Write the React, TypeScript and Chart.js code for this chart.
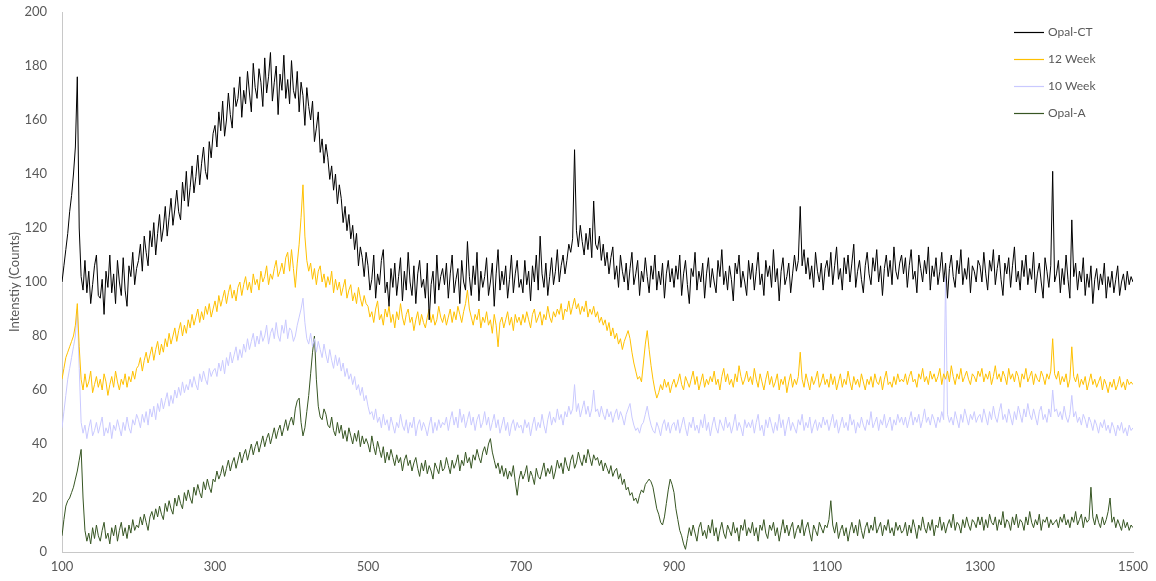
import { useEffect, useRef } from "react";
import { Chart, registerables } from "chart.js";

Chart.register(...registerables);

// Raman shift sampling (cm-1): first value and spacing of the measured points
const xStart = 100;
const xStep = 2.5;

const xTicks = [100, 300, 500, 700, 900, 1100, 1300, 1500];
const yTicks = [0, 20, 40, 60, 80, 100, 120, 140, 160, 180, 200];

const seriesNames = ["Opal-CT", "12 Week", "10 Week", "Opal-A"];
const seriesColors = ["#000000", "#FFC000", "#C9C9FF", "#375623"];

// one line per 100 cm-1 (40 readings)
const opalCT = [
  100, 106, 112, 118, 126, 132, 140, 150, 176, 120, 102, 97, 108, 96, 104, 92, 99, 106, 110, 95, 94, 101, 88, 104, 98, 110, 96, 103, 92, 108, 100, 95, 109, 97, 91, 106, 102, 111, 99, 105,
  108, 114, 104, 117, 111, 106, 119, 113, 122, 110, 118, 125, 115, 120, 128, 117, 124, 131, 121, 127, 134, 126, 123, 137, 130, 141, 128, 135, 143, 133, 139, 147, 136, 144, 150, 141, 138, 152, 146, 155,
  158, 150, 163, 156, 167, 154, 160, 170, 162, 157, 172, 165, 168, 176, 161, 171, 166, 178, 170, 163, 181, 172, 168, 179, 174, 165, 183, 170, 176, 185, 167, 174, 180, 162, 177, 171, 184, 168, 175, 166,
  182, 171, 168, 178, 163, 174, 169, 158, 172, 165, 160, 167, 152, 157, 163, 148, 153, 144, 151, 146, 138, 143, 134, 140, 129, 136, 131, 122, 128, 119, 125, 116, 121, 112, 118, 106, 113, 109, 102, 111,
  106, 97, 101, 110, 94, 103, 99, 108, 112, 96, 100, 91, 105, 98, 107, 95, 102, 109, 93, 104, 97, 111, 100, 95, 106, 92, 103, 108, 98, 101, 94, 107, 86, 99, 104, 92, 110, 97, 102, 105,
  99, 107, 94, 103, 110, 96, 101, 105, 92, 108, 100, 97, 115, 102, 95, 106, 99, 111, 93, 104, 98, 102, 109, 95, 100, 107, 91, 103, 112, 97, 104, 99, 106, 94, 101, 110, 96, 103, 108, 98,
  101, 96, 108, 99, 104, 93, 106, 100, 110, 97, 117, 103, 98, 107, 95, 102, 109, 99, 104, 112, 100, 106, 110, 103, 108, 114, 111, 116, 149, 119, 113, 121, 115, 110, 118, 112, 120, 109, 130, 114,
  112, 117, 108, 114, 106, 111, 103, 109, 113, 101, 106, 98, 110, 104, 100, 107, 97, 105, 111, 99, 103, 108, 95, 104, 100, 109, 102, 96, 106, 101, 110, 97, 104, 99, 107, 94, 103, 108, 100, 105,
  98, 106, 101, 110, 95, 103, 108, 99, 92, 105, 102, 111, 97, 104, 100, 107, 94, 103, 109, 98, 105, 100, 96, 108, 102, 112, 99, 104, 97, 106, 101, 93, 107, 103, 110, 98, 104, 100, 95, 108,
  101, 107, 97, 104, 111, 99, 103, 95, 108, 102, 106, 98, 112, 100, 105, 93, 104, 109, 99, 102, 107, 96, 103, 110, 104, 108, 128, 106, 112, 103, 109, 101, 106, 98, 111, 104, 100, 107, 97, 105,
  108, 102, 111, 99, 106, 113, 101, 105, 97, 109, 103, 110, 100, 107, 114, 98, 104, 108, 101, 96, 106, 111, 103, 99, 109, 104, 112, 100, 106, 95, 105, 110, 102, 108, 99, 113, 104, 101, 107, 110,
  103, 109, 98, 106, 112, 101, 104, 96, 110, 105, 100, 108, 103, 113, 97, 106, 102, 109, 99, 104, 111, 100, 107, 94, 105, 110, 102, 98, 108, 103, 112, 99, 105, 101, 109, 96, 106, 104, 100, 108,
  106, 100, 111, 103, 97, 108, 104, 112, 99, 105, 110, 101, 95, 107, 103, 109, 98, 106, 113, 100, 104, 97, 108, 102, 110, 99, 105, 101, 111, 96, 103, 107, 100, 94, 109, 104, 98, 106, 141, 100,
  103, 108, 96, 105, 99, 110, 101, 94, 123, 102, 107, 97, 104, 100, 109, 95, 103, 98, 106, 92, 101, 105, 97, 103, 99, 107, 94, 102, 98, 104, 96, 101, 106, 95, 100, 103, 97, 104, 99, 102,
  100,
];

const week12 = [
  64, 68, 72, 74, 76, 78, 80, 84, 92, 76, 64, 60, 66, 61, 63, 67, 59, 62, 65, 61, 64, 60, 66, 63, 58, 62, 65, 61, 67, 63, 60, 64, 62, 66, 61, 65, 63, 67, 64, 68,
  69, 72, 67, 71, 74, 70, 73, 76, 71, 75, 78, 73, 77, 74, 79, 76, 81, 77, 80, 83, 78, 82, 85, 80, 84, 81, 86, 83, 88, 84, 87, 90, 85, 89, 86, 91, 88, 92, 87, 90,
  93, 89, 95, 91, 94, 97, 92, 96, 99, 94, 97, 93, 98, 100, 95, 99, 102, 97, 100, 96, 103, 99, 101, 97, 104, 100, 102, 106, 99, 103, 101, 105, 108, 102, 104, 107, 103, 109, 111, 104,
  112, 105, 98, 107, 114, 124, 136, 117, 108, 104, 107, 101, 105, 99, 104, 106, 100, 103, 98, 102, 99, 104, 96, 101, 97, 100, 95, 98, 101, 94, 97, 99, 93, 96, 92, 98, 94, 91, 95, 92,
  91, 87, 89, 85, 90, 93, 86, 88, 84, 90, 87, 91, 85, 88, 83, 89, 86, 92, 87, 84, 88, 90, 85, 87, 82, 86, 89, 84, 88, 85, 83, 87, 90, 85, 88, 84, 86, 91, 87, 85,
  88, 84, 87, 90, 85, 89, 86, 91, 88, 85, 89, 92, 97, 90, 87, 84, 88, 86, 90, 83, 87, 85, 89, 84, 86, 81, 88, 84, 76, 85, 87, 83, 86, 89, 84, 87, 82, 88, 85, 87,
  84, 88, 85, 89, 86, 83, 88, 90, 85, 87, 89, 84, 88, 86, 91, 87, 85, 89, 87, 90, 88, 92, 86, 90, 89, 93, 88, 91, 94, 90, 92, 88, 91, 89, 93, 87, 90, 88, 91, 87,
  89, 85, 87, 84, 86, 82, 85, 80, 83, 79, 81, 77, 79, 75, 78, 80, 82, 79, 74, 70, 67, 64, 65, 63, 70, 77, 82, 75, 69, 64, 60, 57, 59, 62, 60, 64, 61, 63, 59, 62,
  64, 61, 63, 66, 62, 60, 65, 63, 61, 64, 67, 62, 65, 60, 63, 66, 61, 64, 62, 65, 63, 67, 62, 64, 60, 65, 68, 63, 66, 62, 64, 61, 66, 63, 69, 65, 62, 64, 67, 63,
  65, 62, 68, 64, 61, 66, 63, 60, 64, 67, 62, 65, 61, 63, 66, 60, 64, 62, 65, 59, 63, 66, 61, 64, 62, 65, 74, 64, 61, 66, 63, 60, 65, 62, 64, 67, 61, 63, 66, 62,
  64, 61, 66, 62, 65, 60, 63, 66, 61, 64, 62, 67, 63, 60, 65, 62, 64, 61, 66, 63, 60, 64, 62, 65, 61, 66, 63, 62, 65, 60, 64, 67, 62, 63, 61, 65, 62, 66, 63, 64,
  63, 66, 62, 65, 67, 63, 64, 61, 66, 64, 68, 63, 65, 62, 67, 64, 66, 63, 65, 68, 62, 66, 64, 67, 63, 69, 65, 62, 66, 64, 68, 63, 65, 67, 64, 62, 66, 65, 63, 67,
  65, 68, 63, 66, 64, 67, 62, 65, 69, 64, 66, 63, 67, 65, 62, 68, 64, 66, 63, 67, 65, 61, 66, 64, 68, 63, 65, 67, 62, 66, 64, 63, 67, 65, 62, 66, 64, 67, 79, 66,
  64, 67, 62, 65, 63, 66, 61, 64, 76, 65, 63, 66, 61, 64, 62, 65, 60, 63, 66, 62, 64, 61, 63, 65, 60, 64, 62, 59, 63, 61, 64, 60, 62, 65, 61, 63, 60, 64, 62, 63,
  62,
];

const week10 = [
  46, 52, 58, 64, 68, 72, 76, 80, 90, 68, 48, 44, 47, 42, 46, 49, 43, 45, 48, 44, 47, 50, 43, 46, 44, 48, 42, 47, 45, 49, 46, 43, 48, 45, 50, 46, 44, 49, 47, 51,
  49, 46, 51, 48, 52, 47, 53, 50, 54, 49, 55, 52, 57, 53, 56, 59, 54, 58, 55, 60, 57, 61, 58, 63, 59, 62, 60, 64, 61, 65, 62, 60, 66, 63, 67, 64, 62, 68, 65, 67,
  68, 65, 70, 67, 71, 66, 72, 69, 74, 70, 73, 76, 71, 75, 72, 77, 74, 79, 75, 78, 81, 76, 80, 77, 82, 78, 80, 84, 77, 81, 83, 79, 85, 80, 78, 84, 81, 86, 79, 83,
  82, 78, 80, 84, 87, 90, 94, 85, 79, 77, 81, 76, 79, 74, 78, 75, 72, 77, 73, 70, 75, 71, 68, 73, 69, 72, 67, 70, 65, 68, 64, 66, 62, 65, 60, 62, 58, 61, 56, 58,
  54, 51, 52, 49, 53, 48, 50, 46, 51, 47, 49, 45, 50, 47, 44, 48, 46, 51, 47, 45, 49, 44, 48, 46, 50, 43, 47, 49, 45, 48, 46, 43, 47, 50, 44, 48, 45, 49, 46, 48,
  47, 50, 45, 49, 52, 47, 50, 46, 53, 48, 51, 46, 49, 52, 47, 50, 45, 49, 51, 46, 48, 52, 47, 50, 45, 48, 51, 46, 49, 44, 47, 50, 45, 48, 43, 47, 49, 45, 48, 46,
  47, 44, 49, 46, 48, 43, 47, 50, 45, 48, 46, 51, 47, 44, 49, 52, 47, 50, 48, 53, 49, 51, 47, 52, 50, 54, 51, 53, 62, 52, 55, 50, 53, 56, 51, 54, 50, 53, 60, 52,
  53, 50, 54, 51, 49, 53, 50, 52, 48, 51, 53, 49, 52, 50, 47, 51, 53, 55, 50, 47, 45, 46, 44, 47, 48, 51, 54, 50, 47, 45, 44, 48, 46, 43, 47, 49, 45, 48, 44, 47,
  48, 45, 49, 44, 47, 50, 46, 43, 48, 46, 50, 45, 47, 44, 49, 46, 51, 45, 48, 43, 47, 50, 46, 44, 49, 47, 45, 50, 46, 48, 44, 47, 51, 45, 48, 46, 43, 49, 46, 48,
  46, 49, 44, 48, 51, 45, 47, 43, 49, 46, 50, 47, 44, 48, 45, 51, 46, 49, 43, 47, 50, 45, 48, 46, 44, 49, 47, 51, 45, 48, 46, 50, 44, 47, 49, 45, 48, 46, 50, 47,
  49, 45, 48, 51, 46, 49, 44, 47, 50, 46, 48, 45, 51, 47, 49, 44, 48, 46, 50, 47, 45, 49, 47, 52, 46, 48, 50, 45, 49, 47, 51, 46, 48, 50, 45, 49, 47, 51, 48, 50,
  47, 50, 46, 49, 52, 47, 50, 48, 51, 46, 49, 53, 48, 50, 47, 51, 49, 46, 50, 48, 52, 49, 102, 51, 48, 50, 47, 52, 49, 46, 51, 48, 53, 50, 47, 51, 49, 52, 48, 50,
  51, 48, 53, 50, 47, 52, 49, 54, 50, 48, 52, 55, 49, 51, 48, 53, 50, 47, 52, 49, 54, 51, 48, 53, 50, 55, 51, 49, 53, 50, 47, 52, 54, 49, 51, 48, 53, 50, 60, 52,
  53, 50, 52, 49, 54, 50, 48, 51, 58, 50, 52, 48, 50, 47, 51, 49, 46, 50, 48, 45, 49, 47, 44, 48, 46, 49, 45, 47, 44, 48, 46, 43, 47, 45, 48, 44, 46, 43, 47, 45,
  46,
];

const opalA = [
  6, 12, 17, 19, 20, 22, 24, 27, 30, 34, 38, 20, 8, 4, 7, 3, 9, 5, 10, 6, 4, 8, 11, 5, 7, 3, 9, 6, 10, 4, 8, 11, 6, 9, 5, 10, 7, 12, 8, 10,
  9, 13, 10, 14, 11, 8, 13, 15, 12, 16, 13, 17, 14, 12, 18, 15, 19, 16, 14, 20, 17, 21, 18, 16, 22, 19, 23, 20, 18, 24, 21, 25, 22, 20, 26, 23, 27, 24, 22, 27,
  26, 30, 27, 29, 32, 28, 31, 34, 30, 33, 35, 31, 34, 37, 33, 36, 38, 34, 37, 40, 36, 39, 41, 37, 40, 43, 39, 42, 44, 40, 43, 46, 42, 45, 47, 43, 46, 49, 45, 48,
  50, 47, 53, 56, 57, 48, 43, 46, 52, 58, 66, 74, 80, 64, 54, 50, 49, 53, 51, 47, 46, 50, 45, 43, 48, 44, 47, 42, 45, 41, 46, 43, 40, 44, 41, 45, 39, 43, 40, 42,
  40, 37, 43, 39, 36, 41, 38, 35, 39, 33, 37, 34, 38, 35, 32, 36, 33, 35, 30, 34, 36, 32, 34, 30, 33, 35, 31, 28, 33, 30, 34, 29, 32, 30, 27, 33, 31, 29, 34, 30,
  31, 35, 32, 29, 34, 31, 33, 36, 30, 34, 32, 37, 33, 35, 31, 36, 34, 38, 35, 33, 37, 39, 36, 40, 42, 37, 34, 31, 33, 29, 32, 28, 31, 27, 30, 28, 32, 26, 21, 27,
  30, 27, 29, 32, 26, 30, 28, 25, 31, 28, 27, 30, 33, 28, 31, 29, 32, 27, 30, 34, 31, 33, 29, 35, 32, 30, 34, 36, 31, 33, 37, 34, 32, 36, 33, 38, 35, 32, 36, 34,
  35, 32, 34, 30, 33, 31, 29, 32, 28, 30, 31, 27, 29, 25, 27, 23, 24, 21, 22, 19, 20, 18, 21, 23, 22, 25, 26, 27, 26, 24, 20, 16, 14, 11, 10, 13, 18, 23, 27, 25,
  22, 16, 12, 8, 6, 3, 1, 5, 9, 6, 10, 7, 4, 9, 11, 6, 8, 5, 10, 7, 12, 6, 9, 4, 8, 11, 7, 5, 10, 8, 6, 11, 7, 9, 4, 10, 8, 12, 6, 9,
  7, 11, 6, 9, 4, 10, 8, 12, 7, 5, 10, 8, 11, 6, 9, 4, 8, 12, 7, 10, 6, 9, 11, 5, 8, 10, 7, 12, 6, 9, 11, 7, 4, 10, 8, 6, 11, 9, 7, 10,
  9, 12, 19, 10, 7, 11, 5, 8, 10, 6, 9, 4, 8, 11, 7, 10, 6, 12, 8, 5, 9, 11, 7, 10, 8, 13, 7, 9, 11, 6, 10, 8, 12, 7, 9, 6, 11, 8, 10, 7,
  8, 11, 6, 10, 7, 12, 9, 5, 10, 8, 13, 9, 7, 11, 8, 12, 6, 10, 9, 13, 8, 11, 7, 10, 12, 9, 14, 8, 11, 10, 7, 12, 9, 13, 10, 8, 12, 11, 9, 13,
  10, 13, 8, 12, 9, 14, 11, 10, 13, 8, 12, 10, 15, 9, 12, 11, 8, 13, 10, 14, 9, 12, 11, 8, 13, 10, 15, 11, 9, 12, 10, 14, 8, 12, 11, 13, 9, 12, 10, 11,
  12, 9, 13, 11, 14, 10, 12, 9, 13, 11, 15, 10, 12, 14, 9, 13, 11, 12, 24, 13, 10, 14, 11, 9, 13, 10, 12, 15, 20, 11, 13, 9, 12, 10, 8, 12, 9, 11, 8, 10,
  9,
];

const seriesValues = [opalCT, week12, week10, opalA];

const FONT = "Lato, 'Liberation Sans', sans-serif";
const TEXT = "#595959";

// Legend drawn inside the plot, top-right, as short line samples with labels
const insideLegend = {
  id: "insideLegend",
  afterDraw(chart: any) {
    const { ctx, chartArea } = chart;
    const x0 = chartArea.right - 119;
    ctx.save();
    ctx.font = `12px ${FONT}`;
    ctx.textBaseline = "middle";
    chart.data.datasets.forEach((ds: any, i: number) => {
      const y = chartArea.top + 20 + i * 27;
      ctx.strokeStyle = ds.borderColor;
      ctx.lineWidth = 1.2;
      ctx.beginPath();
      ctx.moveTo(x0, y + 0.5);
      ctx.lineTo(x0 + 30, y + 0.5);
      ctx.stroke();
      ctx.fillStyle = TEXT;
      ctx.fillText(ds.label, x0 + 34, y);
    });
    ctx.restore();
  },
};

export default function App() {
  const ref = useRef<HTMLCanvasElement | null>(null);

  useEffect(() => {
    document.body.style.margin = "0";
    const canvas = ref.current;
    if (!canvas) return;

    const datasets = seriesNames.map((name, i) => ({
      label: name,
      data: seriesValues[i].map((v, k) => ({ x: xStart + k * xStep, y: v })),
      borderColor: seriesColors[i],
      backgroundColor: seriesColors[i],
      borderWidth: 1,
      pointRadius: 0,
      tension: 0,
      fill: false,
    }));

    const chart = new Chart(canvas, {
      type: "line",
      data: { datasets },
      plugins: [insideLegend],
      options: {
        responsive: false,
        animation: false,
        layout: { padding: { top: 12, right: 23, left: 0, bottom: 0 } },
        plugins: {
          legend: { display: false },
          tooltip: { enabled: false },
        },
        scales: {
          x: {
            type: "linear",
            min: 100,
            max: 1500,
            grid: { display: false, drawTicks: false },
            border: { display: true, color: "#C8C8C8", width: 1 },
            ticks: {
              color: TEXT,
              font: { family: FONT, size: 13 },
              padding: 7,
              maxRotation: 0,
              callback: (v: any) => String(v),
            },
            afterBuildTicks: (scale: any) => {
              scale.ticks = xTicks.map((v) => ({ value: v }));
            },
            afterFit: (scale: any) => {
              scale.height = 29;
              scale.paddingLeft = 0;
              scale.paddingRight = 0;
            },
          },
          y: {
            type: "linear",
            min: 0,
            max: 200,
            grid: { display: false, drawTicks: false },
            border: { display: true, color: "#C8C8C8", width: 1 },
            ticks: {
              color: TEXT,
              font: { family: FONT, size: 13 },
              padding: 15,
              callback: (v: any) => String(v),
            },
            afterBuildTicks: (scale: any) => {
              scale.ticks = yTicks.map((v) => ({ value: v }));
            },
            afterFit: (scale: any) => {
              scale.width = 62;
              scale.paddingTop = 0;
              scale.paddingBottom = 0;
            },
            title: {
              display: true,
              text: "Intenstiy (Counts)",
              color: TEXT,
              font: { family: FONT, size: 13 },
              padding: { top: 7, bottom: 0 },
            },
          },
        },
      },
    });

    return () => chart.destroy();
  }, []);

  return (
    <div style={{ width: 1156, height: 581, background: "#fff" }}>
      <canvas ref={ref} width={1156} height={581} />
    </div>
  );
}
